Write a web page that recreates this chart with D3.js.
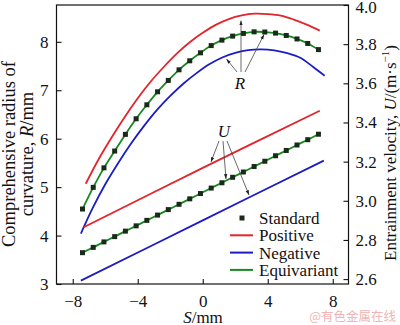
<!DOCTYPE html>
<html><head><meta charset="utf-8">
<script src="https://cdn.jsdelivr.net/npm/d3@7"></script>
<style>body{margin:0;background:#fff}svg{display:block}</style>
</head><body><svg id="c" width="400" height="325"></svg>
<script>
// ---- data ----
const stdS = [-7.40,-6.74,-6.08,-5.42,-4.76,-4.10,-3.44,-2.78,-2.12,-1.46,-0.80,-0.14,0.52,1.18,1.84,2.50,3.16,3.82,4.48,5.14,5.80,6.46,7.12];
const stdR = [4.548,4.995,5.398,5.745,6.089,6.411,6.700,6.968,7.203,7.422,7.608,7.773,7.922,8.035,8.118,8.173,8.206,8.202,8.180,8.131,8.059,7.966,7.839];
const stdU = [2.735,2.762,2.790,2.817,2.845,2.872,2.900,2.927,2.955,2.982,3.010,3.037,3.065,3.092,3.120,3.147,3.175,3.202,3.230,3.257,3.285,3.312,3.340];
const posS = [-7.2,-6.4,-5.6,-4.8,-4.0,-3.2,-2.4,-1.6,-0.8,0,0.8,1.6,2.4,3.2,4.0,4.8,5.6,6.4,7.2];
const posR = [5.07,5.58,6.03,6.45,6.835,7.18,7.48,7.755,7.99,8.185,8.35,8.47,8.545,8.58,8.572,8.54,8.46,8.355,8.23];
const negS = [-7.5,-6.8,-6.0,-5.2,-4.4,-3.6,-2.8,-2.0,-1.2,-0.4,0.4,1.2,2.0,2.8,3.6,4.4,5.2,6.0,6.8,7.5];
const negR = [4.04,4.55,5.06,5.50,5.905,6.27,6.60,6.883,7.135,7.348,7.535,7.677,7.771,7.828,7.843,7.823,7.765,7.67,7.48,7.30];
const posUS = [-7.3,0,7.2];
const posU = [2.866,3.168,3.46];
const negUS = [-7.5,0,7.45];
const negU = [2.592,2.90,3.205];
const xTicks = [-8,-4,0,4,8];
const yLTicks = [3,4,5,6,7,8];
const yRTicks = [2.6,2.8,3.0,3.2,3.4,3.6,3.8,4.0];
const legendItems = ["Standard","Positive","Negative","Equivariant"];
const colors = {pos:"#e3242b", neg:"#1c1cc4", eq:"#158a1e", std:"#1a2a1a"};

// ---- chart ----
const SERIF = '"Liberation Serif","Times New Roman",Tinos,"DejaVu Serif",serif';
const svg = d3.select("#c");
const L=56.5, R=348.5, T=5, B=284;
const x = d3.scaleLinear().domain([-9,9]).range([56.5,349]);
const yL = d3.scaleLinear().domain([3,8.76]).range([B,T]);
const yR = d3.scaleLinear().domain([2.575,4.0]).range([B,T]);

const defs = svg.append("defs");
defs.append("marker").attr("id","ah").attr("viewBox","0 0 10 10").attr("refX",10).attr("refY",5)
  .attr("markerWidth",6).attr("markerHeight",6).attr("orient","auto")
  .append("path").attr("d","M0,1.5L10,5L0,8.5Z").attr("fill","#222");

const curve = d3.curveCatmullRom;
function drawLine(S, V, sc, col){
  svg.append("path").datum(S.map((s,i)=>[s,V[i]]))
    .attr("d", d3.line().x(d=>x(d[0])).y(d=>sc(d[1])).curve(curve))
    .attr("fill","none").attr("stroke",col).attr("stroke-width",1.8);
}
drawLine(posS,posR,yL,colors.pos);
drawLine(negS,negR,yL,colors.neg);
drawLine(stdS,stdR,yL,colors.eq);
drawLine(posUS,posU,yR,colors.pos);
drawLine(negUS,negU,yR,colors.neg);
drawLine(stdS,stdU,yR,colors.eq);

function markers(S,V,sc){
  svg.append("g").selectAll("rect").data(S.map((s,i)=>[s,V[i]])).join("rect")
    .attr("x",d=>x(d[0])-2.5).attr("y",d=>sc(d[1])-2.5).attr("width",5).attr("height",5)
    .attr("fill",colors.std);
}
markers(stdS,stdR,yL);
markers(stdS,stdU,yR);

// annotations
function arrow(x1,y1,x2,y2){
  svg.append("line").attr("x1",x1).attr("y1",y1).attr("x2",x2).attr("y2",y2)
    .attr("stroke","#444").attr("stroke-width",0.8).attr("marker-end","url(#ah)");
}
arrow(237,72,226.5,59);
arrow(241,72,241,20.5);
arrow(245,72,264,34.5);
svg.append("text").attr("x",240).attr("y",89).attr("text-anchor","middle").attr("font-size",17).attr("font-style","italic").text("R");
arrow(219,141,211,162);
arrow(223,141,226,179);
arrow(227,141,249,195);
svg.append("text").attr("x",224).attr("y",137).attr("text-anchor","middle").attr("font-size",17).attr("font-style","italic").text("U");

// frame
svg.append("rect").attr("x",L).attr("y",T).attr("width",R-L).attr("height",B-T)
  .attr("fill","none").attr("stroke","#111").attr("stroke-width",1.2);

// axes
const fs = 17;
const ax = svg.append("g").attr("transform",`translate(0,${B})`)
  .call(d3.axisBottom(x).tickValues(xTicks).tickSizeInner(-5).tickSizeOuter(0).tickPadding(10.5));
const al = svg.append("g").attr("transform",`translate(${L},0)`)
  .call(d3.axisLeft(yL).tickValues(yLTicks).tickSizeInner(-5).tickSizeOuter(0).tickPadding(8).tickFormat(d3.format("d")));
const ar = svg.append("g").attr("transform",`translate(${R},0)`)
  .call(d3.axisRight(yR).tickValues(yRTicks).tickSizeInner(-5).tickSizeOuter(0).tickPadding(7).tickFormat(d3.format(".1f")));
[ax,al,ar].forEach(g=>{
  g.select(".domain").remove();
  g.selectAll("line").attr("stroke","#111").attr("stroke-width",1.1);
  g.selectAll("text").attr("font-size",fs).attr("fill","#111");
});
ar.selectAll("text").filter(d=>d===4.0).attr("dy","0.45em");

// axis titles
const xt = svg.append("text").attr("x",203).attr("y",322.5).attr("text-anchor","middle").attr("font-size",fs);
xt.append("tspan").attr("font-style","italic").text("S");
xt.append("tspan").text("/mm");

const lt = svg.append("text").attr("transform","translate(0,154) rotate(-90)").attr("text-anchor","middle").attr("font-size",18.5);
lt.append("tspan").attr("x",0).attr("y",15).text("Comprehensive radius of");
lt.append("tspan").attr("x",0).attr("y",33).text("curvature, ");
lt.append("tspan").attr("font-style","italic").text("R");
lt.append("tspan").text("/mm");

const rt = svg.append("text").attr("transform","translate(396,153) rotate(-90)").attr("text-anchor","middle").attr("font-size",fs);
rt.append("tspan").text("Entrainment velocity, ");
rt.append("tspan").attr("font-style","italic").text("U");
rt.append("tspan").text("/(m·s");
rt.append("tspan").attr("font-size",11).attr("dy",-7).text("−1");
rt.append("tspan").attr("dy",7).text(")");

// legend
const lg = svg.append("g");
legendItems.forEach((name,i)=>{
  const yy = 218 + i*17.3;
  if(i===0){
    lg.append("rect").attr("x",239.5).attr("y",yy-2.5).attr("width",5).attr("height",5).attr("fill",colors.std);
  } else {
    const c = [null,colors.pos,colors.neg,colors.eq][i];
    lg.append("line").attr("x1",230).attr("x2",253).attr("y1",yy).attr("y2",yy).attr("stroke",c).attr("stroke-width",2);
  }
  lg.append("text").attr("x",259).attr("y",yy+6).attr("font-size",17).text(name);
});

svg.selectAll("text").style("font-family",SERIF).style("fill","#111");

// watermark
svg.append("text").attr("x",396).attr("y",321).attr("text-anchor","end").attr("font-size",12.5)
  .style("font-family",'"Noto Sans CJK SC"').style("fill","#f0b4b4").text("@有色金属在线");
</script></body></html>
